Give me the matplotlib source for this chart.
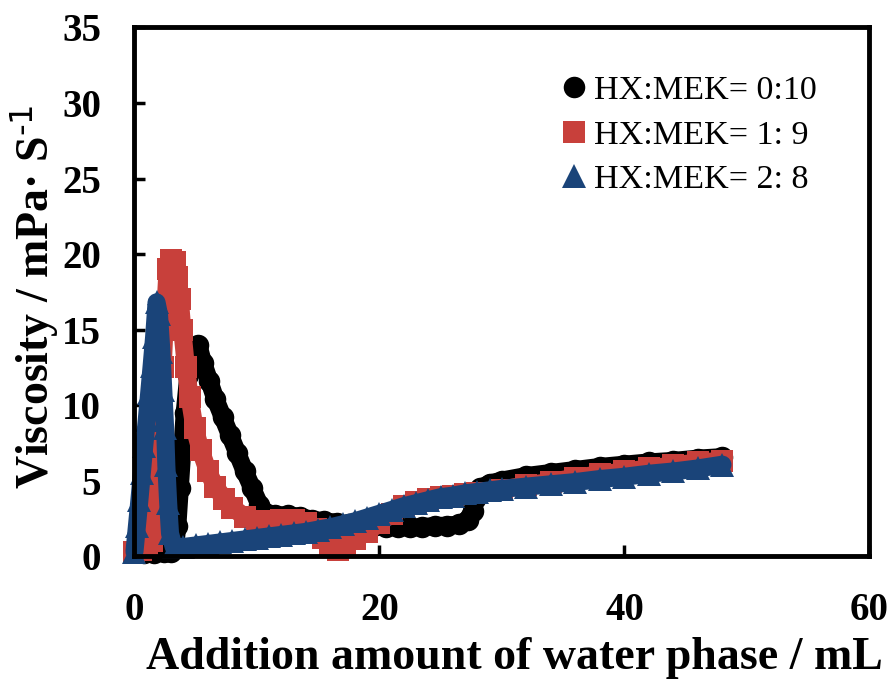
import numpy as np
import matplotlib
matplotlib.use("Agg")
import matplotlib.pyplot as plt

plt.rcParams['font.family'] = ['Liberation Serif', 'DejaVu Serif']
plt.rcParams['mathtext.default'] = 'regular'

## ------------------
## Viscosity vs. water phase added, three HX:MEK ratios
## ------------------
x_0_10 = [0, 0.8, 1.6, 2.4, 3.0, 3.3, 3.5, 3.7, 3.9, 4.1, 4.4, 4.8, 5.2, 5.6, 6.1, 6.6,
          7.2, 7.8, 8.4, 9.0, 9.6, 10.2, 10.8, 11.5, 12.5, 13.5, 14.5, 15.5, 16.5,
          17.5, 18.5, 19.5, 20.5, 21.5, 22.5, 23.5, 24.5, 25.5, 26.5, 27.2, 27.6,
          27.8, 28.2, 29, 30, 32, 34, 36, 38, 40, 42, 44, 46, 48]
y_0_10 = [0.3, 0.2, 0.2, 0.3, 0.3, 0.5, 2.0, 4.5, 7.0, 9.5, 12.0, 13.6, 14.0, 12.8,
          11.6, 10.4, 9.2, 8.0, 6.8, 5.6, 4.5, 3.4, 2.8, 2.7, 2.7, 2.6, 2.4, 2.3, 2.2,
          2.1, 2.0, 2.0, 1.9, 1.9, 1.9, 1.9, 2.0, 2.0, 2.1, 2.4, 3.0, 3.8, 4.5, 4.8,
          5.0, 5.3, 5.5, 5.7, 5.9, 6.05, 6.2, 6.3, 6.45, 6.55]

x_1_9 = [0, 0.5, 1.0, 1.4, 1.7, 1.9, 2.1, 2.3, 2.5, 2.7, 3.0, 3.3, 3.5, 3.7, 3.9, 4.2,
         4.5, 4.9, 5.4, 6.0, 6.6, 7.3, 8.0, 9.0, 10.0, 11.0, 12.0, 13.0, 14.0, 14.8,
         15.4, 16.0, 16.6, 17.2, 18.0, 19.0, 20.0, 21.0, 22.0, 23.0, 24.0, 25.0, 26.0,
         27.0, 28.0, 30.0, 32.0, 34.0, 36.0, 38.0, 40.0, 42.0, 44.0, 46.0, 48.0]
y_1_9 = [0.3, 0.4, 0.6, 1.0, 2.5, 5.0, 8.5, 12.5, 16.0, 19.0, 19.6, 19.5, 18.5, 17.0,
         15.0, 12.5, 10.5, 8.5, 7.0, 5.6, 4.6, 3.8, 3.2, 2.6, 2.3, 2.3, 2.4, 2.4, 2.2,
         1.8, 1.2, 0.6, 0.4, 0.6, 1.1, 1.6, 2.2, 2.8, 3.3, 3.6, 3.8, 3.9, 4.0, 4.1,
         4.2, 4.4, 4.7, 4.9, 5.2, 5.4, 5.6, 5.8, 6.0, 6.2, 6.3]

x_2_8 = [0, 0.2, 0.4, 0.6, 0.8, 1.0, 1.2, 1.4, 1.6, 1.8, 2.0, 2.2, 2.35, 2.5, 2.6,
         2.75, 2.9, 3.2, 4, 5, 6, 7, 8, 9, 10, 11, 12, 13, 14, 15, 16, 17, 18, 19, 20,
         21, 22, 23, 24, 25, 26, 27, 28, 29, 30, 32, 34, 36, 38, 40, 42, 44, 46, 48]
y_2_8 = [0.3, 2.0, 3.7, 5.5, 7.3, 9.0, 10.8, 12.6, 14.5, 16.8, 16.0, 13.5, 11.0, 8.5,
         6.0, 3.5, 1.5, 0.6, 0.6, 0.7, 0.8, 0.9, 1.0, 1.1, 1.2, 1.3, 1.4, 1.5, 1.6,
         1.75, 1.9, 2.1, 2.3, 2.55, 2.8, 3.05, 3.3, 3.5, 3.7, 3.9, 4.0, 4.15, 4.25,
         4.35, 4.45, 4.6, 4.75, 4.9, 5.1, 5.25, 5.45, 5.6, 5.8, 6.05]

labels = ["HX:MEK= 0:10", "HX:MEK= 1: 9", "HX:MEK= 2: 8"]
colors = ["#000000", "#C8403B", "#1A4479"]
markers = ["o", "s", "^"]

xticks = [0, 20, 40, 60]
yticks = [0, 5, 10, 15, 20, 25, 30, 35]

fig = plt.figure(figsize=(8.96, 6.79), dpi=100)
ax = fig.add_axes([0.1501, 0.1811, 0.8203, 0.7784])

series = [(x_0_10, y_0_10), (x_1_9, y_1_9), (x_2_8, y_2_8)]
for (xs, ys), lab, c, m in zip(series, labels, colors, markers):
    # thick joining line fills the gaps between the dense readings
    ax.plot(xs, ys, color=c, lw=13, solid_joinstyle='round', solid_capstyle='round',
            clip_on=False)
    ax.plot(xs, ys, ls='none', marker=m, ms=17 if m == '^' else 15.5, color=c,
            mec=c, mew=0, clip_on=False, label=lab)

ax.set_xlim(0, 60)
ax.set_ylim(0, 35)
ax.set_xticks(xticks)
ax.set_yticks(yticks)
ax.tick_params(direction='in', length=8, width=2.5, labelsize=28)
ax.tick_params(axis='x', pad=26)
ax.tick_params(axis='y', pad=24)
for t in ax.get_xticklabels() + ax.get_yticklabels():
    t.set_fontweight('bold')
for sp in ax.spines.values():
    sp.set_linewidth(3.5)

ax.set_xlabel("Addition amount of water phase / mL", fontsize=33, fontweight='bold',
              labelpad=6)
ax.xaxis.label.set_x(0.517)
ax.set_ylabel("Viscosity / mPa· S$^{\\text{-1}}$", fontsize=33, fontweight='bold',
              labelpad=1)
ax.yaxis.label.set_y(0.49)

ax.legend(loc='upper left', bbox_to_anchor=(0.579, 0.91), frameon=False, fontsize=24.6,
          handlelength=0.8, handletextpad=0.2, labelspacing=0.4, borderpad=0,
          borderaxespad=0, markerscale=1.0)

fig.savefig("out.png", dpi=100)
